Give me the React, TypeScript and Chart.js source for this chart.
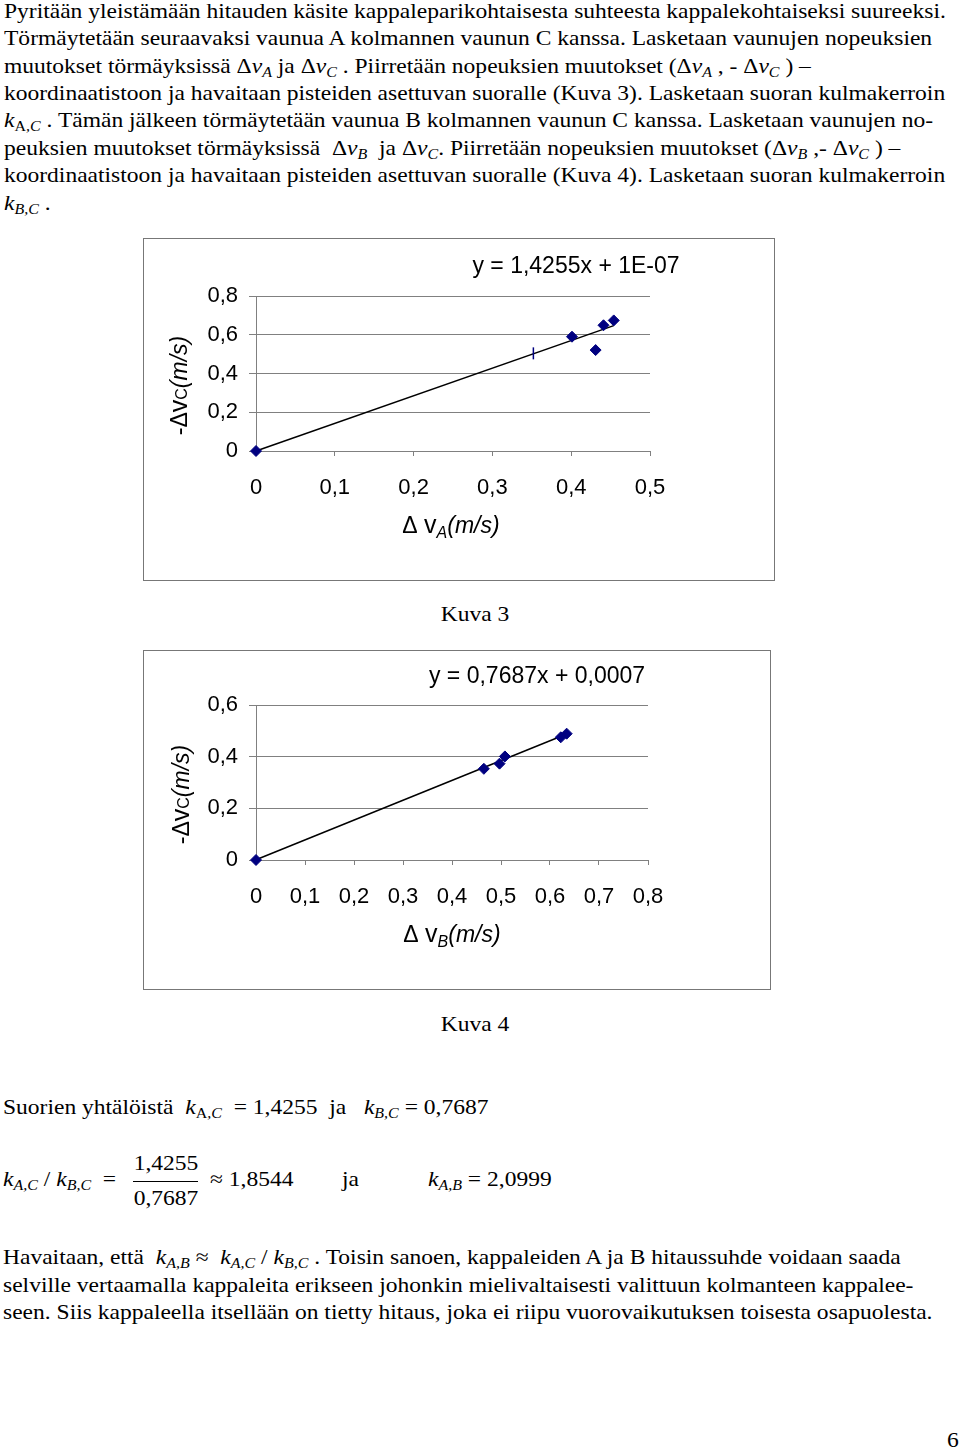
import React, { useEffect, useRef } from "react";
import { Chart, registerables } from "chart.js";

Chart.register(...registerables);
if (typeof document !== "undefined") document.body.style.margin = "0";

// ---------- Kuva 3 data ----------
const kuva3X = [0, 0.401, 0.431, 0.441, 0.454];
const kuva3Y = [0, 0.59, 0.521, 0.649, 0.674];
const kuva3DashX = [0.352];
const kuva3DashY = [0.504];
const kuva3TrendX = [0, 0.454];
const kuva3TrendY = [0, 0.647];
const kuva3XTicks = [0, 0.1, 0.2, 0.3, 0.4, 0.5];
const kuva3YTicks = [0, 0.2, 0.4, 0.6, 0.8];
const kuva3Equation = "y = 1,4255x + 1E-07";

// ---------- Kuva 4 data ----------
const kuva4X = [0, 0.465, 0.497, 0.508, 0.622, 0.634];
const kuva4Y = [0, 0.353, 0.373, 0.401, 0.475, 0.489];
const kuva4TrendX = [0, 0.634];
const kuva4TrendY = [0.0007, 0.488];
const kuva4XTicks = [0, 0.1, 0.2, 0.3, 0.4, 0.5, 0.6, 0.7, 0.8];
const kuva4YTicks = [0, 0.2, 0.4, 0.6];
const kuva4Equation = "y = 0,7687x + 0,0007";

const SANS = "'Liberation Sans', Arial, sans-serif";
const SERIF = "'Liberation Serif', 'Times New Roman', serif";
const MARK = "#000080";
const GRID = "#808080";

const fmt = (v: number) => (v === 0 ? "0" : Number(v).toFixed(1).replace(".", ","));
const zip = (xs: number[], ys: number[]) => xs.map((x, i) => ({ x, y: ys[i] }));

type Seg = { t: string; font: string; dy?: number };
type RichItem = {
  segs: Seg[];
  ax: "left" | "center" | "right";
  ay: "top" | "center" | "bottom";
  dx: number;
  dy: number;
  align: "left" | "center" | "right";
  rotate?: number;
};

const richTextPlugin = {
  id: "richText",
  afterDraw(chart: any, _args: any, opts: any) {
    const { ctx, chartArea } = chart;
    const items: RichItem[] = (opts && opts.items) || [];
    for (const it of items) {
      ctx.save();
      const bx =
        it.ax === "left" ? chartArea.left : it.ax === "right" ? chartArea.right : (chartArea.left + chartArea.right) / 2;
      const by =
        it.ay === "top" ? chartArea.top : it.ay === "bottom" ? chartArea.bottom : (chartArea.top + chartArea.bottom) / 2;
      ctx.translate(bx + it.dx, by + it.dy);
      if (it.rotate) ctx.rotate(it.rotate);
      let total = 0;
      for (const s of it.segs) {
        ctx.font = s.font;
        total += ctx.measureText(s.t).width;
      }
      let x = it.align === "center" ? -total / 2 : it.align === "right" ? -total : 0;
      ctx.textBaseline = "alphabetic";
      ctx.textAlign = "left";
      ctx.fillStyle = "#000";
      for (const s of it.segs) {
        ctx.font = s.font;
        ctx.fillText(s.t, x, s.dy || 0);
        x += ctx.measureText(s.t).width;
      }
      ctx.restore();
    }
  },
};

function axis(ticksArr: number[], min: number, max: number, isX: boolean, fitSize: number) {
  return {
    type: "linear",
    min,
    max,
    afterBuildTicks: (s: any) => {
      s.ticks = ticksArr.map((v) => ({ value: v }));
    },
    afterFit: (s: any) => {
      if (isX) s.height = fitSize;
      else s.width = fitSize;
    },
    ticks: {
      callback: (v: any) => fmt(Number(v)),
      color: "#000",
      font: { size: 22, family: SANS },
      padding: isX ? 19 : 11,
      autoSkip: false,
      maxRotation: 0,
      minRotation: 0,
    },
    grid: {
      color: GRID,
      lineWidth: 1,
      tickLength: isX ? 5 : 7,
      drawOnChartArea: !isX,
      drawTicks: true,
    },
    border: { color: GRID, width: 1 },
  };
}

function xTitle(letter: string, dx: number): RichItem {
  return {
    segs: [
      { t: "Δ ", font: `23px ${SANS}` },
      { t: "v", font: `25px ${SANS}` },
      { t: letter, font: `italic 16px ${SANS}`, dy: 5 },
      { t: "(m/s)", font: `italic 23px ${SANS}` },
    ],
    ax: "center",
    ay: "bottom",
    dx,
    dy: 82,
    align: "center",
  };
}

function yTitle(dx: number, dy: number): RichItem {
  return {
    segs: [
      { t: "-Δ", font: `23px ${SANS}` },
      { t: "v", font: `25px ${SANS}` },
      { t: "C", font: `16px ${SANS}` },
      { t: "(m/s)", font: `italic 23px ${SANS}` },
    ],
    ax: "left",
    ay: "center",
    dx,
    dy,
    align: "center",
    rotate: -Math.PI / 2,
  };
}

function equation(text: string, dx: number, dy: number): RichItem {
  return {
    segs: [{ t: text, font: `23px ${SANS}` }],
    ax: "left",
    ay: "top",
    dx,
    dy,
    align: "center",
  };
}

function makeConfig1(): any {
  return {
    type: "scatter",
    data: {
      datasets: [
        {
          data: zip(kuva3X, kuva3Y),
          pointStyle: "rectRot",
          pointRadius: 5.5,
          backgroundColor: MARK,
          borderColor: MARK,
          borderWidth: 1,
          clip: false,
        },
        {
          data: zip(kuva3DashX, kuva3DashY),
          pointStyle: "line",
          rotation: 90,
          pointRadius: 6,
          borderColor: MARK,
          borderWidth: 1.5,
          clip: false,
        },
        {
          data: zip(kuva3TrendX, kuva3TrendY),
          showLine: true,
          borderColor: "#000",
          borderWidth: 1.5,
          pointRadius: 0,
          fill: false,
          clip: false,
        },
      ],
    },
    options: {
      responsive: false,
      animation: false,
      devicePixelRatio: 1,
      layout: { padding: { top: 57, right: 124, left: 0, bottom: 0 } },
      scales: {
        x: axis(kuva3XTicks, 0, 0.5, true, 129),
        y: axis(kuva3YTicks, 0, 0.8, false, 112),
      },
      plugins: {
        legend: { display: false },
        tooltip: { enabled: false },
        richText: {
          items: [equation(kuva3Equation, 320, -23), xTitle("A", -2), yTitle(-69, 12)],
        },
      },
    },
    plugins: [richTextPlugin],
  };
}

function makeConfig2(): any {
  return {
    type: "scatter",
    data: {
      datasets: [
        {
          data: zip(kuva4X, kuva4Y),
          pointStyle: "rectRot",
          pointRadius: 5.5,
          backgroundColor: MARK,
          borderColor: MARK,
          borderWidth: 1,
          clip: false,
        },
        {
          data: zip(kuva4TrendX, kuva4TrendY),
          showLine: true,
          borderColor: "#000",
          borderWidth: 1.5,
          pointRadius: 0,
          fill: false,
          clip: false,
        },
      ],
    },
    options: {
      responsive: false,
      animation: false,
      devicePixelRatio: 1,
      layout: { padding: { top: 54, right: 122, left: 0, bottom: 0 } },
      scales: {
        x: axis(kuva4XTicks, 0, 0.8, true, 129),
        y: axis(kuva4YTicks, 0, 0.6, false, 112),
      },
      plugins: {
        legend: { display: false },
        tooltip: { enabled: false },
        richText: {
          items: [equation(kuva4Equation, 281, -22), xTitle("B", 0), yTitle(-67, 12)],
        },
      },
    },
    plugins: [richTextPlugin],
  };
}

function ChartBox(props: { left: number; top: number; w: number; h: number; make: () => any }) {
  const ref = useRef<HTMLCanvasElement>(null);
  useEffect(() => {
    const chart = new Chart(ref.current as HTMLCanvasElement, props.make());
    return () => chart.destroy();
  }, []);
  return (
    <div
      style={{
        position: "absolute",
        left: props.left,
        top: props.top,
        width: props.w,
        height: props.h,
        border: "1px solid #777",
        boxSizing: "border-box",
        background: "#fff",
      }}
    >
      <canvas
        ref={ref}
        width={props.w - 2}
        height={props.h - 2}
        style={{ display: "block", width: props.w - 2, height: props.h - 2 }}
      />
    </div>
  );
}

const SX = 1.12;

function Line(props: { x: number; base: number; children: any; center?: boolean; sx?: number }) {
  const sx = props.sx ?? SX;
  return (
    <div
      style={{
        position: "absolute",
        left: props.x,
        top: props.base - 20.8,
        whiteSpace: "pre",
        fontFamily: SERIF,
        fontSize: 21,
        lineHeight: "27.4px",
        color: "#000",
        transform: props.center ? `translateX(-50%) scaleX(${sx})` : `scaleX(${sx})`,
        transformOrigin: props.center ? "center top" : "left top",
      }}
    >
      {props.children}
    </div>
  );
}

const Sub = (p: { children: any }) => (
  <span style={{ fontSize: "0.68em", verticalAlign: "-0.3em", lineHeight: 0 }}>{p.children}</span>
);
const DV = (p: { s: string }) => (
  <>
    Δ<i>v</i>
    <Sub>
      <i>{p.s}</i>
    </Sub>
  </>
);
const K = (p: { a: string; b: string; upright?: boolean }) => (
  <>
    <i>k</i>
    <Sub>
      {p.upright ? p.a : <i>{p.a}</i>}
      <i>,{p.b}</i>
    </Sub>
  </>
);

export default function App() {
  const L0 = 18.5;
  const P = 27.4;
  return (
    <div style={{ position: "relative", width: 960, height: 1451, background: "#fff", overflow: "hidden" }}>
      <Line x={4} base={L0}>
        Pyritään yleistämään hitauden käsite kappaleparikohtaisesta suhteesta kappalekohtaiseksi suureeksi.
      </Line>
      <Line x={4} base={L0 + P}>
        Törmäytetään seuraavaksi vaunua A kolmannen vaunun C kanssa. Lasketaan vaunujen nopeuksien
      </Line>
      <Line x={4} base={L0 + 2 * P}>
        muutokset törmäyksissä <DV s="A" /> ja <DV s="C" /> . Piirretään nopeuksien muutokset (<DV s="A" /> , -{" "}
        <DV s="C" /> ) –
      </Line>
      <Line x={4} base={L0 + 3 * P}>
        koordinaatistoon ja havaitaan pisteiden asettuvan suoralle (Kuva 3). Lasketaan suoran kulmakerroin
      </Line>
      <Line x={4} base={L0 + 4 * P}>
        <K a="A" b="C" upright /> . Tämän jälkeen törmäytetään vaunua B kolmannen vaunun C kanssa. Lasketaan vaunujen no-
      </Line>
      <Line x={4} base={L0 + 5 * P}>
        peuksien muutokset törmäyksissä  <DV s="B" />  ja <DV s="C" />. Piirretään nopeuksien muutokset (<DV s="B" />{" "}
        ,- <DV s="C" /> ) –
      </Line>
      <Line x={4} base={L0 + 6 * P}>
        koordinaatistoon ja havaitaan pisteiden asettuvan suoralle (Kuva 4). Lasketaan suoran kulmakerroin
      </Line>
      <Line x={4} base={L0 + 7 * P}>
        <K a="B" b="C" /> .
      </Line>

      <ChartBox left={143} top={238} w={632} h={343} make={makeConfig1} />
      <Line x={475} base={622} center>
        Kuva 3
      </Line>

      <ChartBox left={143} top={650} w={628} h={340} make={makeConfig2} />
      <Line x={475} base={1032} center>
        Kuva 4
      </Line>

      <Line x={3} base={1115}>
        Suorien yhtälöistä  <K a="A" b="C" upright />  = 1,4255  ja   <K a="B" b="C" /> = 0,7687
      </Line>

      <Line x={3} base={1187}>
        <K a="A" b="C" /> / <K a="B" b="C" />  =
      </Line>
      <Line x={165.5} base={1171} center>
        1,4255
      </Line>
      <div style={{ position: "absolute", left: 133, top: 1181, width: 65, height: 1, background: "#000" }} />
      <Line x={165.5} base={1206} center>
        0,7687
      </Line>
      <Line x={210} base={1187}>
        ≈ 1,8544
      </Line>
      <Line x={342} base={1187}>
        ja
      </Line>
      <Line x={428} base={1187}>
        <K a="A" b="B" /> = 2,0999
      </Line>

      <Line x={3} base={1265}>
        Havaitaan, että  <K a="A" b="B" /> ≈  <K a="A" b="C" /> / <K a="B" b="C" /> . Toisin sanoen, kappaleiden A ja B
        hitaussuhde voidaan saada
      </Line>
      <Line x={3} base={1293}>
        selville vertaamalla kappaleita erikseen johonkin mielivaltaisesti valittuun kolmanteen kappalee-
      </Line>
      <Line x={3} base={1320}>
        seen. Siis kappaleella itsellään on tietty hitaus, joka ei riipu vuorovaikutuksen toisesta osapuolesta.
      </Line>

      <Line x={953} base={1448} center>
        6
      </Line>
    </div>
  );
}
